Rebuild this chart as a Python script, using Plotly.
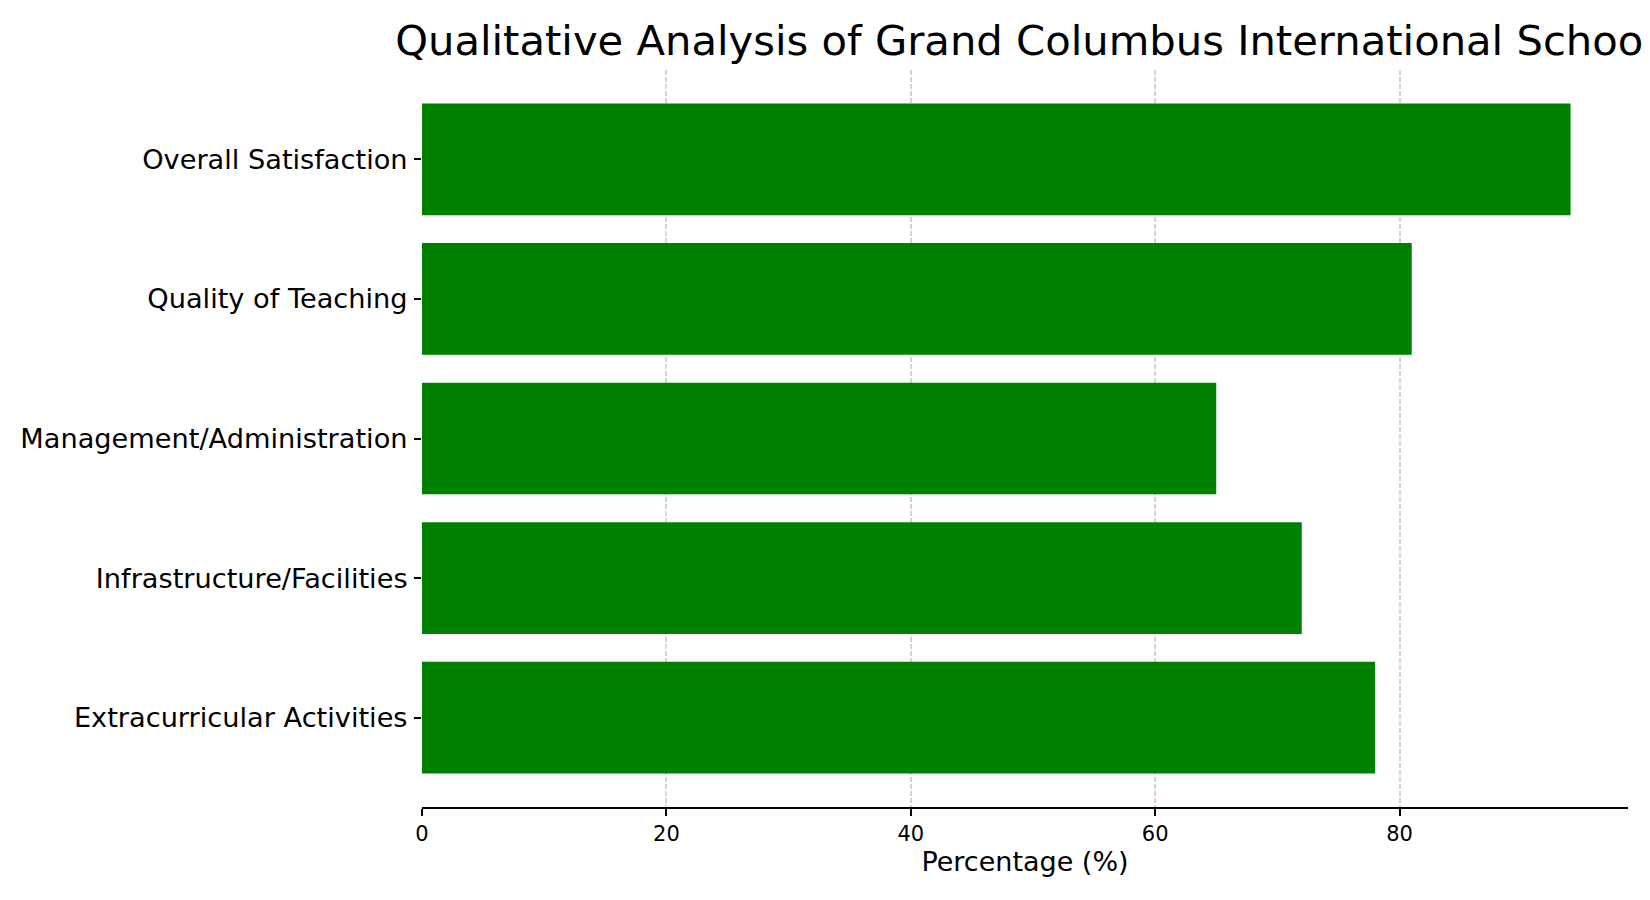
import plotly.graph_objects as go

categories = [
    "Extracurricular Activities",
    "Infrastructure/Facilities",
    "Management/Administration",
    "Quality of Teaching",
    "Overall Satisfaction",
]
percentages = [78, 72, 65, 81, 94]
x_ticks = [0, 20, 40, 60, 80]

fig = go.Figure()

fig.add_trace(
    go.Bar(
        x=percentages,
        y=categories,
        orientation="h",
        width=0.8,
        marker=dict(color="#008000", line=dict(width=0)),
    )
)

# page body adds an 8px margin, so the figure is a bit smaller and shifted
fig.update_layout(
    width=1642,
    height=884,
    template="plotly_white",
    plot_bgcolor="white",
    paper_bgcolor="white",
    font=dict(family="DejaVu Sans", color="black"),
    margin=dict(l=414, r=22, t=62, b=85, autoexpand=False),
    showlegend=False,
    title=dict(
        text="Qualitative Analysis of Grand Columbus International School",
        font=dict(size=41.7, color="black"),
        x=0.5,
        xref="paper",
        xanchor="center",
        y=1 - 32 / 884,
        yref="container",
        yanchor="middle",
    ),
)

fig.update_xaxes(
    range=[0, 98.7],
    tickvals=x_ticks,
    ticks="outside",
    ticklen=7,
    tickwidth=1.5,
    tickcolor="black",
    tickfont=dict(size=21),
    showline=True,
    linecolor="black",
    linewidth=1.5,
    showgrid=True,
    gridcolor="rgba(128,128,128,0.35)",
    griddash="5px,2px",
    gridwidth=2,
    layer="above traces",
    zeroline=False,
    automargin=False,
    title=dict(text="Percentage (%)", font=dict(size=27), standoff=6),
)

fig.update_yaxes(
    type="category",
    categoryorder="array",
    categoryarray=categories,
    range=[-0.64, 4.64],
    ticks="outside",
    ticklen=7,
    tickwidth=1.5,
    tickcolor="black",
    tickfont=dict(size=27.2),
    ticklabelstandoff=1,
    showline=False,
    showgrid=False,
    zeroline=False,
    automargin=False,
)

fig.write_html("out.html")
